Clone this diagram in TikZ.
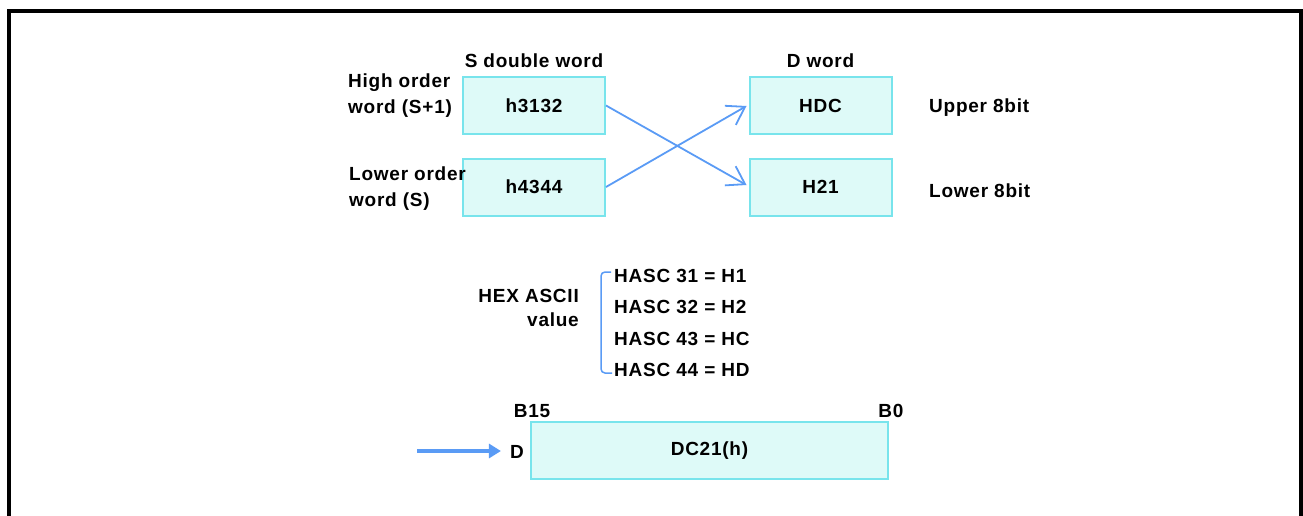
\documentclass[tikz,border=0pt]{standalone}
\usepackage{fontspec}
\setmainfont{Liberation Sans}[LetterSpace=4]
\usepackage{tikz}
\usetikzlibrary{arrows.meta}
\definecolor{boxfill}{RGB}{222,250,248}
\definecolor{boxline}{RGB}{120,228,236}
\definecolor{arrblue}{RGB}{90,155,245}
\tikzset{
  wordbox/.style={draw=boxline, fill=boxfill, line width=2pt, minimum width=142pt, minimum height=57pt, inner sep=0pt},
  lbl/.style={font=\fontsize{19}{26}\selectfont\bfseries, inner sep=0pt},
  cross/.style={draw=arrblue, line width=1.8pt, -{Straight Barb[length=17pt,width=22pt,line width=1.8pt]}}
}
\begin{document}
\begin{tikzpicture}[x=1pt, y=-1pt]
\useasboundingbox (0,0) rectangle (1303,516);
\draw[line width=4pt] (9,516) -- (9,11) -- (1301,11) -- (1301,516);
\node[wordbox, lbl] (h3132) at (534,105.5) {h3132};
\node[wordbox, lbl] (h4344) at (534,187) {h4344};
\node[wordbox, lbl] (hdc) at (820.5,105.5) {HDC};
\node[wordbox, lbl] (h21) at (820.5,187) {H21};
\node[lbl] (sdw) at (534,61) {S double word};
\node[lbl] (dw) at (820.5,61) {D word};
\node[lbl, align=left, anchor=west] (high) at (348,96) {High order\\word (S+1)};
\node[lbl, align=left, anchor=west] (low) at (349,189) {Lower order\\word (S)};
\node[lbl, anchor=west] (upper) at (929,108) {Upper 8bit};
\node[lbl, anchor=west] (lower) at (929,191) {Lower 8bit};
\draw[cross] (h3132.east) -- ([xshift=-2pt,yshift=2pt]h21.west);
\draw[cross] (h4344.east) -- ([xshift=-2pt,yshift=-0.5pt]hdc.west);
\node[lbl, align=right, anchor=east, font=\fontsize{19}{24}\selectfont\bfseries] (hex) at (579,308) {HEX ASCII\\value};
\foreach \name/\txt/\y in {hasca/HASC 31 = H1/276, hascb/HASC 32 = H2/307, hascc/HASC 43 = HC/339, hascd/HASC 44 = HD/370}
  \node[lbl, anchor=west] (\name) at (614,\y) {\txt};
\draw[arrblue, line width=1.5pt, rounded corners=4pt] (611,272) -| (601,373) -- (612,373);
\node[wordbox, lbl, minimum width=357pt] (dc21) at (709.5,450.5) {DC21(h)};
\node[lbl] (b15) at (532,411) {B15};
\node[lbl] (b0) at (891,411) {B0};
\node[lbl] (d) at (517,452) {D};
\coordinate (din) at (417,451);
\draw[arrblue, line width=3.5pt, -{Triangle[length=12pt,width=14pt]}] (din) -- ([xshift=-9pt]d.west |- din);
\end{tikzpicture}
\end{document}
